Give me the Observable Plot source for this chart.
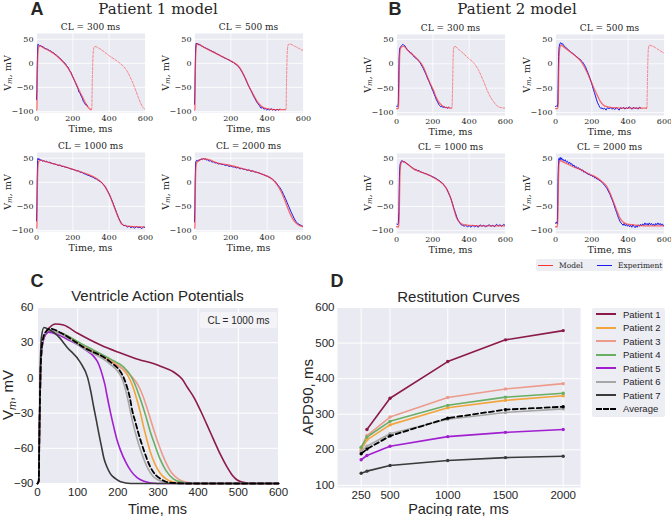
<!DOCTYPE html>
<html><head><meta charset="utf-8">
<script src="https://cdn.jsdelivr.net/npm/d3@7"></script>
<script src="https://cdn.jsdelivr.net/npm/@observablehq/plot@0.6"></script>
<style>
html,body{margin:0;padding:0;background:#fff;}
#fig{position:relative;width:671px;height:516px;overflow:hidden;background:#fff;}
#fig svg{position:absolute;}
.t{position:absolute;white-space:nowrap;line-height:1;color:#262626;}
</style></head>
<body><div id="fig"></div>
<script>
// ---------------- DATA ----------------
const cycleLengths = [300, 500, 1000, 2000];
const timeTicks = [0, 200, 400, 600];
const vTicks = [-100, -50, 0, 50];

// Patient 1 model / experiment traces [time ms, Vm mV]
const p1Model300 = [[0,-97],[2,-96],[4,-40],[7,15],[11,33],[18,37],[40,32],[76,25],[100,19],[130,9],[160,-3],[184,-16],[200,-28],[220,-44],[240,-60],[256,-72],[275,-86],[292,-94],[300,-96]];
const p1Next300 = [[300,-96],[304,-95],[307,-40],[311,15],[316,33],[322,35],[350,30],[400,16],[450,3],[480,-7],[500,-17],[520,-32],[540,-50],[560,-70],[575,-84],[590,-93],[600,-96]];
const p1Exp300 = [[0,-75],[2,-55],[4,-5],[6,28],[8,40],[11,39],[14,37],[18,36],[24,37],[30,34],[36,35],[42,32],[48,31],[55,30],[62,29],[70,27],[78,26],[86,23],[94,22],[102,19],[110,17],[118,14],[126,12],[134,8],[142,6],[150,2],[158,0],[166,-5],[174,-8],[182,-15],[190,-19],[198,-27],[206,-33],[214,-40],[222,-47],[228,-52],[234,-60],[240,-62],[246,-68],[252,-72],[258,-79],[264,-82],[270,-86],[275,-85],[280,-89]];

const p1Model500 = [[0,-97],[2,-95],[4,-30],[7,20],[11,38],[16,41],[40,36],[69,30],[100,24],[142,16],[180,9],[215,2],[240,-5],[260,-16],[280,-31],[300,-48],[324,-65],[345,-79],[360,-86],[380,-92],[400,-94],[440,-96],[500,-96]];
const p1Next500 = [[500,-96],[504,-95],[507,-30],[511,25],[516,39],[525,40],[550,36],[575,31],[600,26]];
const p1Exp500 = [[0,-85],[2,-60],[4,-10],[6,30],[9,42],[13,40],[18,41],[24,38],[30,39],[38,36],[46,35],[54,33],[62,32],[70,30],[78,29],[86,27],[94,26],[102,24],[110,23],[118,21],[126,19],[134,18],[142,16],[150,14],[158,13],[166,11],[174,10],[182,8],[190,7],[198,5],[206,3],[214,2],[222,-1],[230,-2],[238,-6],[246,-8],[254,-13],[262,-18],[270,-24],[278,-30],[286,-37],[294,-44],[302,-50],[310,-56],[318,-62],[326,-69],[334,-74],[342,-80],[350,-84],[358,-88],[366,-93],[374,-91],[382,-95],[390,-94],[398,-97],[406,-95],[414,-97],[422,-94],[430,-97],[438,-95],[446,-98],[454,-95],[462,-97],[470,-95]];

const p1Model1000 = [[0,-95],[2,-93],[4,-30],[7,25],[11,42],[20,46],[60,42],[100,38],[150,33],[200,27],[250,21],[300,14],[330,8],[355,1],[375,-8],[395,-21],[412,-35],[427,-50],[440,-63],[455,-77],[470,-87],[500,-91],[550,-92],[600,-93]];
const p1Exp1000 = [[0,-80],[2,-50],[4,10],[6,45],[8,50],[11,47],[15,49],[20,46],[26,47],[32,44],[40,45],[48,43],[56,44],[64,41],[72,42],[80,40],[90,39],[100,38],[110,37],[120,35],[130,36],[140,33],[150,33],[160,31],[170,31],[180,29],[190,28],[200,27],[210,26],[220,24],[230,24],[240,21],[250,21],[260,18],[270,17],[280,15],[290,14],[300,12],[310,11],[320,8],[330,7],[340,4],[350,2],[360,-1],[370,-5],[380,-10],[390,-17],[400,-24],[410,-33],[420,-42],[430,-52],[440,-62],[450,-72],[460,-80],[470,-86],[480,-90],[490,-89],[500,-93],[510,-91],[520,-94],[530,-92],[540,-95],[550,-92],[560,-94],[570,-93],[580,-96],[590,-92],[600,-95]];

const p1Model2000 = [[0,-95],[2,-93],[4,-30],[7,25],[11,40],[20,44],[50,49],[80,47],[120,41],[200,35],[280,27],[350,20],[400,13],[430,6],[455,-5],[475,-18],[495,-35],[512,-52],[530,-68],[550,-81],[570,-88],[600,-92]];
const p1Exp2000 = [[0,-82],[2,-50],[4,10],[6,40],[9,44],[13,46],[18,44],[24,47],[30,46],[36,49],[42,47],[48,50],[54,48],[60,49],[66,46],[72,47],[80,44],[88,45],[96,42],[104,43],[112,40],[120,41],[130,38],[140,39],[150,37],[160,37],[170,35],[180,36],[190,33],[200,34],[210,32],[220,32],[230,30],[240,31],[250,28],[260,29],[270,27],[280,27],[290,25],[300,26],[310,23],[320,24],[330,22],[340,21],[350,20],[360,19],[370,17],[380,16],[390,14],[400,13],[410,11],[420,9],[430,6],[440,3],[450,-1],[460,-6],[470,-11],[480,-17],[490,-25],[500,-33],[510,-42],[520,-51],[530,-60],[540,-68],[550,-76],[560,-82],[570,-86],[580,-88],[590,-90],[600,-92]];

// Patient 2
const p2Model300 = [[0,-92],[10,-92],[12,-80],[15,-20],[18,20],[22,32],[30,35],[40,36],[60,28],[95,17],[131,3],[150,-8],[167,-24],[185,-40],[204,-55],[220,-70],[240,-82],[260,-88],[280,-90],[300,-91]];
const p2Next300 = [[300,-91],[305,-91],[308,-60],[311,0],[314,30],[320,36],[340,30],[368,21],[400,10],[422,3],[450,-12],[477,-34],[500,-55],[520,-70],[531,-76],[550,-85],[567,-89],[600,-91]];
const p2Exp300 = [[0,-87],[4,-88],[8,-86],[10,-80],[12,-40],[14,10],[17,30],[20,33],[25,36],[30,38],[35,40],[40,38],[46,37],[52,33],[58,30],[64,27],[70,26],[76,22],[82,22],[88,18],[94,16],[100,13],[106,12],[112,9],[118,8],[124,5],[130,2],[136,-2],[142,-6],[148,-10],[154,-15],[160,-20],[166,-25],[172,-31],[178,-35],[184,-41],[190,-46],[196,-52],[202,-57],[208,-63],[214,-68],[220,-74],[226,-78],[232,-83],[238,-86],[244,-88],[250,-87],[256,-90],[262,-88],[268,-90],[274,-89],[280,-91],[286,-89],[290,-90]];

const p2Model500 = [[0,-92],[12,-92],[15,-80],[18,-10],[21,25],[26,36],[32,38],[50,33],[82,24],[110,16],[136,7],[155,-4],[173,-17],[190,-31],[209,-48],[228,-63],[245,-76],[265,-85],[282,-88],[320,-90],[360,-91],[500,-91]];
const p2Next500 = [[500,-91],[503,-91],[505,-60],[508,0],[511,30],[517,38],[550,33],[575,27],[600,21]];
const p2Exp500 = [[0,-88],[5,-86],[10,-88],[13,-80],[15,-30],[17,15],[20,35],[25,42],[30,43],[35,40],[40,41],[46,37],[52,35],[58,33],[64,31],[70,29],[76,27],[82,25],[88,23],[94,22],[100,19],[106,18],[112,16],[118,14],[124,12],[130,10],[136,9],[142,6],[148,4],[154,1],[160,-3],[166,-7],[172,-13],[178,-18],[184,-24],[190,-30],[196,-37],[202,-44],[208,-52],[214,-59],[220,-66],[226,-74],[232,-80],[238,-85],[244,-89],[250,-92],[256,-90],[262,-93],[270,-91],[278,-95],[286,-90],[294,-92],[302,-90],[310,-93],[318,-91],[326,-94],[334,-90],[342,-92],[350,-95],[358,-90],[366,-92],[374,-89],[382,-93],[390,-90],[398,-92],[406,-88],[414,-91],[422,-93],[430,-89],[438,-92],[446,-90],[454,-93],[462,-89],[470,-91]];

const p2Model1000 = [[0,-92],[12,-92],[15,-70],[18,0],[22,35],[28,42],[35,44],[60,38],[95,28],[130,22],[167,17],[200,11],[222,6],[245,0],[267,-8],[285,-20],[304,-39],[318,-58],[331,-74],[345,-82],[367,-87.5],[400,-89],[458,-90],[600,-90]];
const p2Exp1000 = [[0,-86],[5,-88],[10,-85],[13,-60],[15,-10],[17,25],[20,38],[24,42],[28,45],[34,44],[40,42],[46,43],[52,40],[58,39],[64,37],[70,36],[76,33],[82,32],[88,30],[94,29],[100,26],[108,27],[116,24],[124,25],[132,22],[140,21],[148,20],[156,18],[164,18],[172,16],[180,15],[188,14],[196,12],[204,11],[212,9],[220,8],[228,5],[236,4],[244,1],[252,-1],[260,-5],[268,-9],[276,-13],[284,-20],[292,-27],[300,-34],[308,-44],[316,-54],[324,-63],[332,-72],[340,-79],[348,-84],[356,-88],[364,-89],[372,-91],[380,-89],[390,-92],[400,-90],[410,-93],[420,-89],[430,-92],[440,-90],[450,-93],[460,-88],[470,-91],[480,-89],[490,-92],[500,-90],[510,-88],[520,-91],[530,-89],[540,-92],[550,-87],[560,-90],[570,-88],[580,-91],[590,-87],[600,-90]];

const p2Model2000 = [[0,-92],[10,-92],[13,-70],[16,0],[20,40],[26,45],[50,41],[100,32],[136,27],[180,18],[227,10],[255,2],[282,-8],[300,-22],[318,-39],[337,-58],[355,-74],[372,-82],[391,-86],[430,-88],[500,-90],[600,-90]];
const p2Exp2000 = [[0,-85],[5,-82],[10,-86],[12,-50],[14,10],[16,35],[19,50],[22,46],[26,52],[30,47],[34,51],[38,46],[42,48],[48,44],[54,47],[60,42],[66,44],[72,39],[78,42],[84,37],[90,39],[96,34],[102,36],[108,31],[114,33],[120,29],[126,31],[132,27],[138,28],[144,24],[150,26],[156,21],[162,23],[168,19],[174,20],[180,16],[186,18],[192,14],[198,15],[204,12],[210,13],[216,9],[222,10],[228,7],[234,7],[240,4],[246,4],[252,1],[258,-1],[264,-3],[270,-6],[276,-9],[282,-12],[288,-16],[294,-21],[300,-25],[306,-31],[312,-36],[318,-42],[324,-49],[330,-56],[336,-62],[342,-69],[348,-75],[354,-80],[360,-84],[366,-86],[372,-89],[378,-85],[384,-90],[390,-87],[396,-91],[402,-88],[408,-92],[414,-89],[420,-93],[426,-88],[432,-91],[438,-94],[444,-90],[450,-93],[456,-88],[462,-91],[468,-87],[474,-90],[480,-86],[486,-89],[492,-84],[498,-88],[504,-85],[510,-89],[516,-84],[522,-88],[528,-85],[534,-89],[540,-86],[546,-90],[552,-85],[558,-88],[564,-84],[570,-88],[576,-85],[582,-89],[588,-86],[594,-90],[600,-88]];

// Panel C: ventricle action potentials at CL = 1000 ms
const patientNames = ["Patient 1","Patient 2","Patient 3","Patient 4","Patient 5","Patient 6","Patient 7"];
const patientColors = ["#8b1a4b","#f2a53c","#ec9b8a","#6aae63","#a020d0","#a7a7a7","#3a3a3a"];
const apP1 = [[0,-90],[3,-88],[5,-40],[8,10],[12,28],[20,38],[30,43],[45,46],[65,45],[100,38],[157,28],[200,22],[240,17],[306,10],[339,5],[360,-1],[373,-8],[390,-17],[406,-28],[422,-40],[439,-53],[455,-65],[472,-76],[485,-83],[497,-87],[518,-89.5],[545,-90],[600,-90]];
const apP2 = [[0,-90],[3,-88],[5,-40],[8,10],[12,28],[20,37],[35,40],[60,38],[115,27],[182,15],[210,8],[225,2],[237,-7],[247,-18],[255,-28],[263,-40],[271,-51],[280,-62],[292,-73],[305,-81],[320,-86],[340,-89],[370,-90],[600,-90]];
const apP3 = [[0,-90],[3,-88],[5,-40],[8,10],[12,28],[20,37],[35,40],[60,38],[115,27],[182,14],[215,7],[235,1],[250,-6],[262,-15],[272,-25],[282,-36],[292,-47],[305,-60],[318,-71],[332,-80],[350,-86],[370,-89],[395,-90],[600,-90]];
const apP4 = [[0,-90],[3,-88],[5,-40],[8,10],[12,28],[20,37],[35,40],[60,38],[115,28],[182,16],[215,9],[230,3],[242,-5],[251,-13],[260,-22],[270,-33],[280,-45],[292,-57],[305,-69],[320,-79],[338,-86],[360,-89],[385,-90],[600,-90]];
const apP5 = [[0,-90],[3,-88],[5,-40],[8,10],[12,28],[20,37],[27,39],[50,37],[74,33],[115,25],[149,14],[161,3],[168,-6],[173,-15],[182,-30],[190,-42],[198,-53],[207,-62],[220,-72],[232,-79],[248,-85],[265,-88],[298,-90],[600,-90]];
const apP6 = [[0,-90],[3,-88],[5,-40],[8,10],[12,30],[20,39],[30,41],[60,37],[115,25],[180,12],[203,4],[212,-2],[219,-10],[226,-20],[232,-30],[240,-42],[248,-52],[258,-63],[273,-76],[288,-84],[300,-87],[320,-89],[350,-90],[600,-90]];
const apP7 = [[0,-90],[3,-88],[5,-40],[7,10],[10,35],[16,43],[30,41],[50,36],[74,26],[107,13],[125,0],[133,-12],[140,-25],[147,-37],[153,-48],[159,-58],[165,-68],[173,-76],[182,-82],[195,-86],[207,-88.5],[232,-90],[600,-90]];
const apAvg = [[0,-90],[3,-88],[5,-40],[8,10],[12,30],[20,39],[32,42],[60,38],[115,26],[182,13.5],[207,5],[216,-1],[223,-8],[230,-17],[236,-28],[244,-38],[252,-48],[265,-62],[281,-76],[295,-83],[306,-86],[320,-88.5],[340,-89.5],[370,-90],[600,-90]];

// Panel D: restitution curves (APD90 vs pacing rate)
const pacingRates = [250, 300, 500, 1000, 1500, 2000];
const apdP1 = [null, 257, 345, 448, 509, 535];
const apdP2 = [200, 228, 270, 318, 339, 352];
const apdP3 = [205, 240, 292, 347, 371, 386];
const apdP4 = [207, 236, 280, 325, 348, 359];
const apdP5 = [172, 184, 210, 237, 249, 257];
const apdP6 = [196, 210, 245, 286, 305, 315];
const apdP7 = [134, 140, 156, 170, 178, 182];
const apdAvg = [189, 202, 239, 289, 313, 321];

// ---------------- DRAWING ----------------
const fig = document.getElementById("fig");
const BG = "#EAEAF2";
const SERIF = "'DejaVu Serif', serif";
const SANS = "'Liberation Sans', Arial, sans-serif";
const RED = "#ff3434", BLUE = "#1a1aee";
const fmt = d => d < 0 ? "\u2212" + Math.abs(d) : String(d);

function T(html, cx, cy, o = {}) {
  const el = document.createElement("div");
  el.className = "t";
  el.innerHTML = html;
  el.style.left = cx + "px";
  el.style.top = cy + "px";
  el.style.fontSize = (o.size || 9) + "px";
  el.style.fontFamily = o.fam || SERIF;
  if (o.weight) el.style.fontWeight = o.weight;
  const tx = o.anchor === "start" ? "0" : "-50%";
  el.style.transform = `translate(${tx},-50%)` + (o.rot ? " rotate(-90deg)" : "");
  fig.appendChild(el);
  return el;
}

function sub(o) {
  const ml = 45, mr = 12, mt = 10, mb = 30;
  const svg = Plot.plot({
    width: o.w + ml + mr, height: o.h + mt + mb,
    marginLeft: ml, marginRight: mr, marginTop: mt, marginBottom: mb,
    x: {domain: o.xd}, y: {domain: o.yd},
    style: {fontFamily: o.fam, fontSize: o.fs + "px", color: "#262626", background: "transparent", overflow: "visible"},
    marks: [
      Plot.frame({fill: BG, stroke: "none"}),
      Plot.gridX(o.xt, {stroke: "white", strokeOpacity: 1, strokeWidth: o.gw || 1}),
      Plot.gridY(o.yt, {stroke: "white", strokeOpacity: 1, strokeWidth: o.gw || 1}),
      ...o.marks,
      Plot.axisX(o.xt, {tickSize: 0, tickPadding: o.padX, tickFormat: fmt, label: null}),
      Plot.axisY(o.yt, {tickSize: 0, tickPadding: o.padY, tickFormat: fmt, label: null})
    ]
  });
  svg.style.left = (o.left - ml) + "px";
  svg.style.top = (o.top - mt) + "px";
  fig.appendChild(svg);
}

function apMarks(model, next, exp) {
  const m = [Plot.line(exp, {stroke: BLUE, strokeWidth: 1, clip: true})];
  m.push(Plot.line(model, {stroke: RED, strokeWidth: 1.3, strokeOpacity: 0.72, curve: "monotone-x", clip: true}));
  if (next) m.push(Plot.line(next, {stroke: RED, strokeWidth: 0.8, strokeOpacity: 0.7, strokeDasharray: "2.5,1.5", curve: "monotone-x", clip: true}));
  return m;
}

const VLAB = "V<sub style='font-size:0.75em;font-style:italic;vertical-align:-0.25em'>m</sub>, mV";

// Panels A and B
const grids = [
  {name: "A", title: "Patient 1 model", tx: 158, lx: 37, yd: [-102, 62],
   cols: [36, 194], rows: [[33, 79], [152, 79]],
   traces: [[p1Model300, p1Next300, p1Exp300],[p1Model500, p1Next500, p1Exp500],[p1Model1000, null, p1Exp1000],[p1Model2000, null, p1Exp2000]]},
  {name: "B", title: "Patient 2 model", tx: 517, lx: 395, yd: [-106, 60],
   cols: [396, 555], rows: [[34, 81], [153, 80]],
   traces: [[p2Model300, p2Next300, p2Exp300],[p2Model500, p2Next500, p2Exp500],[p2Model1000, null, p2Exp1000],[p2Model2000, null, p2Exp2000]]}
];
for (const g of grids) {
  T(g.name, g.lx, 9, {size: 18, fam: SANS, weight: "bold"});
  T(g.title, g.tx, 9, {size: 15});
  cycleLengths.forEach((cl, i) => {
    const left = g.cols[i % 2], [top, h] = g.rows[Math.floor(i / 2)], w = 109;
    const tr = g.traces[i];
    sub({left, top, w, h, xd: [0, 600], yd: g.yd, xt: timeTicks, yt: vTicks, fam: SERIF, fs: 8, padX: 2.5, padY: 3, gw: 0.8,
         marks: apMarks(tr[0], tr[1], tr[2])});
    T(`CL = ${cl} ms`, left + w / 2, top - 6, {size: 9});
    T("Time, ms", left + w / 2, top + h + 17, {size: 9.5});
    T(VLAB, left - 28, top + h / 2, {size: 9.5, rot: true});
  });
}

// Legend for A/B
(function () {
  const box = document.createElement("div");
  box.style.cssText = "position:absolute;left:536px;top:259px;width:127px;height:12px;background:#EDEDF4;border-radius:2px;";
  fig.appendChild(box);
  const items = [["Model", RED, 538], ["Experiment", BLUE, 597]];
  for (const [lab, col, x] of items) {
    const s = document.createElement("div");
    s.style.cssText = `position:absolute;left:${x}px;top:265px;width:15px;border-top:1px solid ${col};`;
    fig.appendChild(s);
    T(lab, x + 21, 265.5, {size: 7.5, anchor: "start"});
  }
})();

// Panel C
const apCurves = [apP1, apP2, apP3, apP4, apP5, apP6, apP7];
T("C", 37, 281, {size: 18, fam: SANS, weight: "bold"});
T("Ventricle Action Potentials", 157.5, 295, {size: 15, fam: SANS});
sub({left: 37, top: 307, w: 241, h: 176, xd: [0, 600], yd: [-90, 60],
     xt: [0, 100, 200, 300, 400, 500, 600], yt: [-90, -60, -30, 0, 30, 60], fam: SANS, fs: 11.5, padX: 4, padY: 4, gw: 1,
     marks: [
       ...apCurves.map((c, i) => Plot.line(c, {stroke: patientColors[i], strokeWidth: 1.6, curve: "monotone-x"})),
       Plot.line(apAvg, {stroke: "#000", strokeWidth: 1.8, strokeDasharray: "5,3", curve: "monotone-x"})
     ]});
(function () {
  const b = document.createElement("div");
  b.style.cssText = "position:absolute;left:200px;top:312px;width:77px;height:16px;background:#F3F3F8;border-radius:2px;";
  fig.appendChild(b);
  T("CL = 1000 ms", 238.5, 320.5, {size: 10, fam: SANS});
})();
T("Time, ms", 157.5, 508.5, {size: 14.5, fam: SANS});
T("V<sub style='font-size:0.72em;font-style:italic;vertical-align:-0.25em'>m</sub>, mV", 9, 395, {size: 15, fam: SANS, rot: true});

// Panel D
const apdSeries = [apdP1, apdP2, apdP3, apdP4, apdP5, apdP6, apdP7];
const restRows = [];
apdSeries.forEach((s, i) => pacingRates.forEach((r, j) => { if (s[j] != null) restRows.push({name: patientNames[i], rate: r, apd: s[j], color: patientColors[i]}); }));
const avgRows = pacingRates.map((r, j) => ({rate: r, apd: apdAvg[j]}));
T("D", 337, 281, {size: 18, fam: SANS, weight: "bold"});
T("Restitution Curves", 458.5, 296, {size: 15, fam: SANS});
sub({left: 337, top: 307, w: 243, h: 180, xd: [45, 2150], yd: [94, 600],
     xt: [250, 500, 1000, 1500, 2000], yt: [100, 200, 300, 400, 500, 600], fam: SANS, fs: 11.5, padX: 3, padY: 3, gw: 1,
     marks: [
       ...patientNames.map((n, i) => Plot.line(restRows.filter(d => d.name === n), {x: "rate", y: "apd", stroke: patientColors[i], strokeWidth: 1.6})),
       ...patientNames.map((n, i) => Plot.dot(restRows.filter(d => d.name === n), {x: "rate", y: "apd", fill: patientColors[i], r: 1.7})),
       Plot.line(avgRows, {x: "rate", y: "apd", stroke: "#000", strokeWidth: 1.8, strokeDasharray: "5,3"}),
       Plot.dot(avgRows, {x: "rate", y: "apd", fill: "#000", r: 1.7})
     ]});
T("Pacing rate, ms", 458.5, 508.5, {size: 14.5, fam: SANS});
T("APD90, ms", 307, 397, {size: 15, fam: SANS, rot: true});

// Legend for D
(function () {
  const box = document.createElement("div");
  box.style.cssText = "position:absolute;left:592px;top:308px;width:73px;height:109px;background:#EDEDF4;border-radius:2px;";
  fig.appendChild(box);
  const names = [...patientNames, "Average"];
  const cols = [...patientColors, "#000"];
  names.forEach((n, i) => {
    const y = 314 + 13.55 * i;
    const s = document.createElement("div");
    s.style.cssText = `position:absolute;left:596px;top:${y - 1}px;width:20px;border-top:2px ${i === 7 ? "dashed" : "solid"} ${cols[i]};`;
    fig.appendChild(s);
    T(n, 623, y + 0.5, {size: 9.5, fam: SANS, anchor: "start"});
  });
})();
</script></body></html>
